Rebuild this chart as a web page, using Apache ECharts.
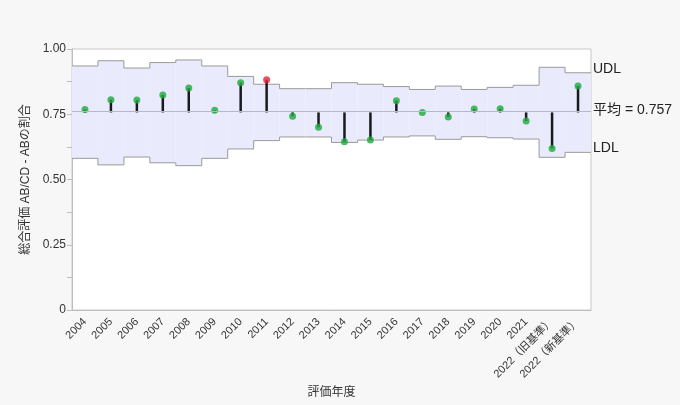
<!DOCTYPE html>
<html>
<head>
<meta charset="utf-8">
<script src="https://cdn.jsdelivr.net/npm/echarts@6/dist/echarts.min.js"></script>
<style>
  html, body { margin: 0; padding: 0; background: #f7f7f7; }
  #chart { width: 680px; height: 405px; }
</style>
</head>
<body>
<div id="chart"></div>
<script>
// 評価年度
const years = ['2004', '2005', '2006', '2007', '2008', '2009', '2010', '2011', '2012', '2013',
  '2014', '2015', '2016', '2017', '2018', '2019', '2020', '2021', '2022（旧基準）', '2022（新基準）']
// 総合評価 AB/CD - ABの割合
const ratio = [0.768, 0.806, 0.805, 0.824, 0.851, 0.765, 0.871, 0.882, 0.742, 0.700,
  0.645, 0.651, 0.802, 0.757, 0.739, 0.770, 0.771, 0.724, 0.619, 0.858]
// 上方・下方判定限界
const udl = [0.935, 0.955, 0.927, 0.948, 0.958, 0.935, 0.895, 0.865, 0.848, 0.848,
  0.871, 0.865, 0.856, 0.845, 0.858, 0.845, 0.853, 0.861, 0.930, 0.909]
const ldl = [0.581, 0.556, 0.586, 0.564, 0.553, 0.581, 0.617, 0.649, 0.663, 0.663,
  0.642, 0.651, 0.663, 0.667, 0.654, 0.664, 0.660, 0.655, 0.585, 0.604]
const meanValue = 0.757
const yTicks = [0, 0.25, 0.5, 0.75, 1.0]

const font = '"Liberation Sans", "Noto Sans CJK JP", sans-serif'
const limitColor = '#9a9a9a'

const myChart = echarts.init(document.getElementById('chart'))

// 判定限界の帯 (カテゴリ幅いっぱいの階段)
function renderBand(params, api) {
  const i = api.value(0)
  const hw = api.size([1, 0])[0] / 2
  const top = api.coord([i, api.value(1)])
  const bot = api.coord([i, api.value(2)])
  const x0 = top[0] - hw
  const x1 = top[0] + hw
  const children = [
    { type: 'rect', shape: { x: x0, y: top[1], width: x1 - x0, height: bot[1] - top[1] },
      style: { fill: '#e9ebfc' } },
    { type: 'line', shape: { x1: x0, y1: top[1], x2: x1, y2: top[1] }, style: { stroke: limitColor, lineWidth: 1 } },
    { type: 'line', shape: { x1: x0, y1: bot[1], x2: x1, y2: bot[1] }, style: { stroke: limitColor, lineWidth: 1 } }
  ]
  if (i > 0) {
    const pu = api.coord([i - 1, udl[i - 1]])
    const pl = api.coord([i - 1, ldl[i - 1]])
    children.push({ type: 'line', shape: { x1: x0, y1: pu[1], x2: x0, y2: top[1] }, style: { stroke: limitColor, lineWidth: 1 } })
    children.push({ type: 'line', shape: { x1: x0, y1: pl[1], x2: x0, y2: bot[1] }, style: { stroke: limitColor, lineWidth: 1 } })
  }
  if (i === years.length - 1) {
    children.push({ type: 'text', x: x1 + 2, y: top[1] - 4,
      style: { text: 'UDL', fontSize: 14, fill: '#222', fontFamily: font, verticalAlign: 'middle' } })
    children.push({ type: 'text', x: x1 + 2, y: bot[1] - 4,
      style: { text: 'LDL', fontSize: 14, fill: '#222', fontFamily: font, verticalAlign: 'middle' } })
  }
  return { type: 'group', children: children }
}

const option = {
  backgroundColor: '#f7f7f7',
  textStyle: { fontFamily: font },
  animation: false,
  grid: {
    left: 72, right: 89, top: 49, bottom: 95,
    show: true, backgroundColor: '#fff', borderColor: '#c8c8c8', borderWidth: 1
  },
  xAxis: {
    type: 'category',
    data: years,
    name: '評価年度',
    nameLocation: 'middle',
    nameGap: 76,
    nameTextStyle: { fontSize: 12, color: '#333' },
    axisLine: { lineStyle: { color: '#bdbdbd' } },
    axisTick: { length: 5, lineStyle: { color: '#bdbdbd' } },
    axisLabel: { rotate: 45, fontSize: 11, color: '#333', interval: 0, margin: 10 }
  },
  yAxis: {
    type: 'value',
    min: 0, max: 1, interval: 0.25,
    name: '総合評価 AB/CD - ABの割合',
    nameLocation: 'middle',
    nameGap: 37,
    nameTextStyle: { fontSize: 12, color: '#333' },
    splitLine: { show: false },
    axisLine: { show: true, lineStyle: { color: '#bdbdbd' } },
    axisTick: { show: true, length: 5, lineStyle: { color: '#bdbdbd' } },
    minorTick: { show: true, splitNumber: 2, length: 5, lineStyle: { color: '#bdbdbd' } },
    axisLabel: {
      fontSize: 12, color: '#333', margin: 6,
      formatter: v => yTicks.includes(v) ? (v === 0 ? '0' : v.toFixed(2)) : ''
    }
  },
  series: [
    {
      name: '判定限界',
      type: 'custom',
      data: years.map((y, i) => [i, udl[i], ldl[i]]),
      renderItem: renderBand,
      clip: false,
      z: 1
    },
    {
      name: 'needle',
      type: 'custom',
      data: ratio.map((v, i) => [i, v]),
      renderItem: function (params, api) {
        const p0 = api.coord([api.value(0), meanValue])
        const p1 = api.coord([api.value(0), api.value(1)])
        return {
          type: 'line',
          shape: { x1: p0[0], y1: p0[1], x2: p1[0], y2: p1[1] },
          style: { stroke: '#1a1a1a', lineWidth: 2.5 }
        }
      },
      markLine: {
        silent: true,
        symbol: 'none',
        data: [{ yAxis: meanValue }],
        lineStyle: { color: '#b4b8c8', type: 'solid', width: 1 },
        label: { position: 'end', formatter: '平均 = ' + meanValue, fontSize: 14, color: '#222', distance: 2, offset: [0, -1] }
      },
      z: 2
    },
    {
      name: '総合評価',
      type: 'scatter',
      symbolSize: 7,
      data: ratio.map((v, i) => ({
        value: [i, v],
        itemStyle: { color: v > udl[i] ? '#e8203a' : '#1faa3c' }
      })),
      z: 3
    }
  ]
}

myChart.setOption(option)
</script>
</body>
</html>
